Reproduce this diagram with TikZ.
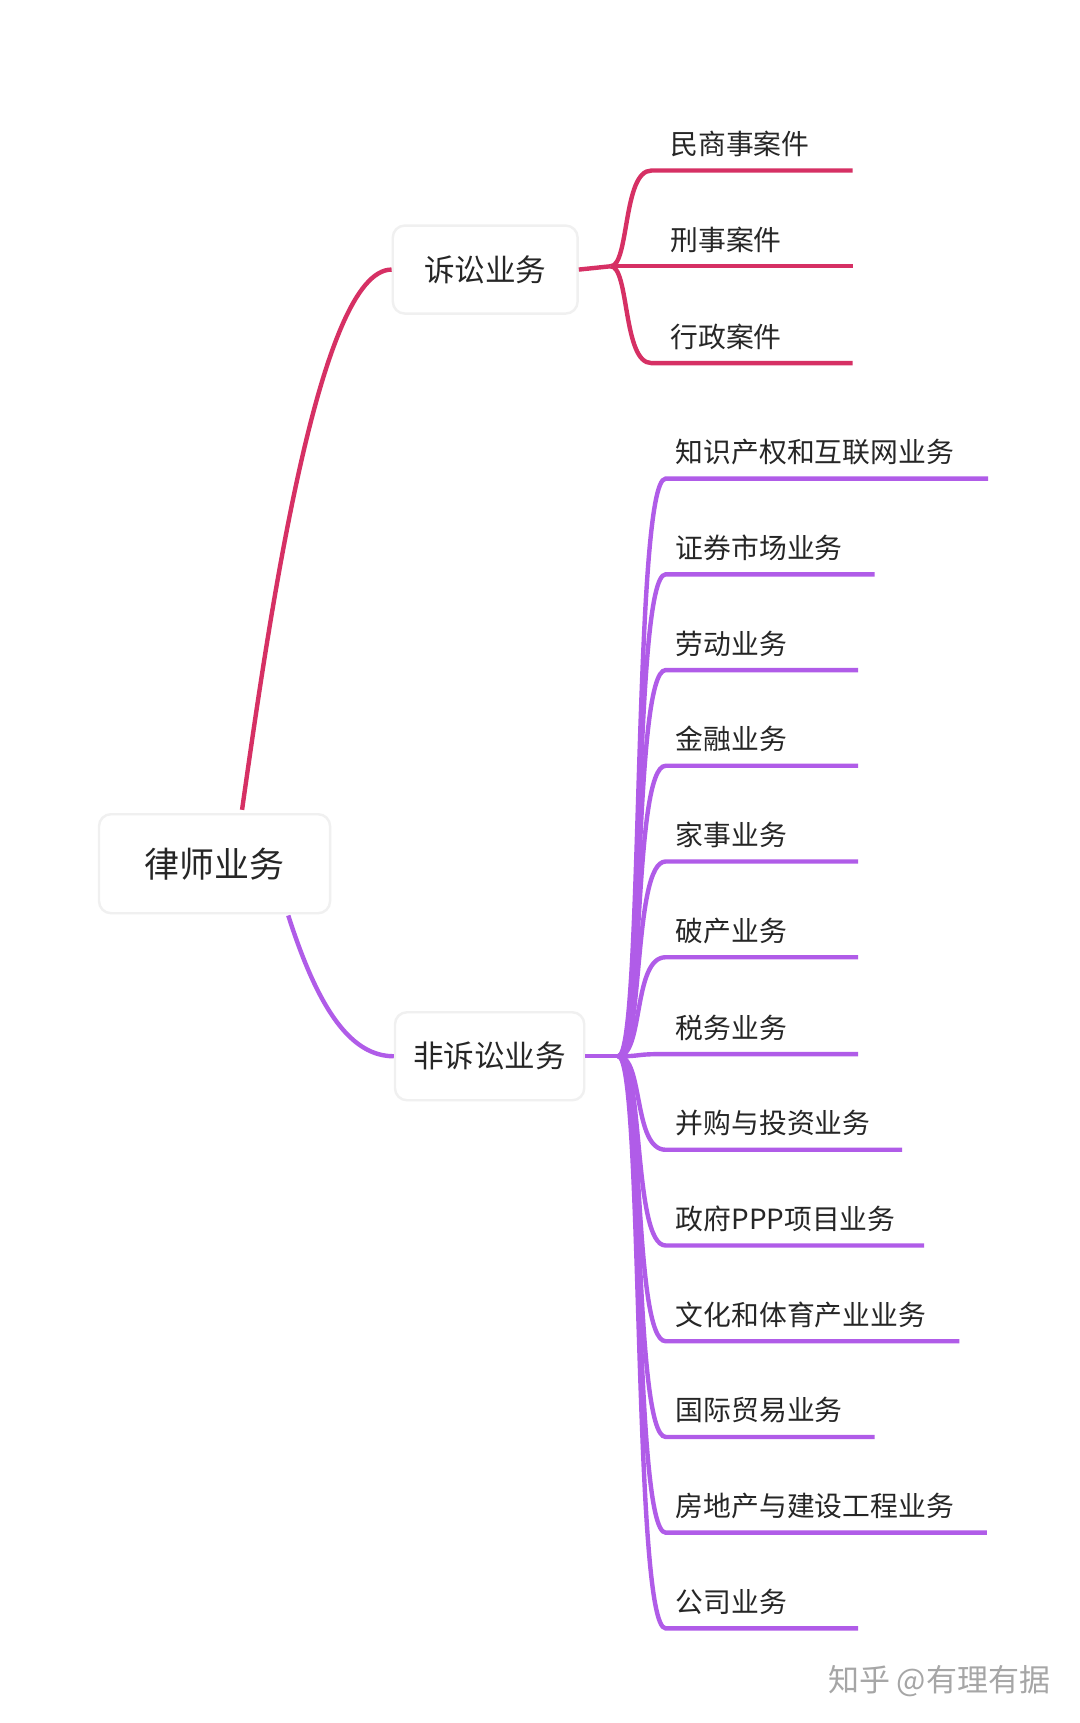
\documentclass[tikz,border=0pt]{standalone}
\usepackage{fontspec}
\setmainfont{Noto Sans CJK SC}
\begin{document}
\begin{tikzpicture}[x=0.55pt,y=-0.55pt,
  box/.style={draw=black!6,fill=white,rounded corners=6pt,line width=1.2pt,text=black!85,inner sep=0pt},
  lbl/.style={anchor=south west,font=\fontsize{13.9}{16}\selectfont,text=black!85,inner sep=0pt},
  rl/.style={draw={rgb,255:red,214;green,48;blue,100},line width=2.2pt},
  pl/.style={draw={rgb,255:red,176;green,92;blue,232},line width=2.2pt}]
\useasboundingbox[fill=white] (0,0) rectangle (981,1566);
\node[box,minimum width=210*0.55pt,minimum height=90*0.55pt,font=\fontsize{17.5}{20}\selectfont] (root) at (195,785) {律师业务};
\node[box,minimum width=168*0.55pt,minimum height=80*0.55pt,font=\fontsize{15.3}{18}\selectfont] (lit) at (441,245) {诉讼业务};
\node[box,minimum width=172*0.55pt,minimum height=80*0.55pt,font=\fontsize{15.3}{18}\selectfont] (non) at (445,960) {非诉讼业务};
\draw[rl] (220,736) .. controls (245,560) and (290,245) .. (lit.west);
\draw[pl] (262,832) .. controls (290,920) and (320,960) .. (non.west);
% litigation children
\coordinate (lb) at (555,242);
\draw[rl] (lit.east) -- (lb);
\foreach \y/\e/\t [count=\i] in {155/775/民商事案件,242/775/刑事案件,330/775/行政案件}{
  \coordinate (ls\i) at (592,\y); \coordinate (le\i) at (\e,\y);
  \draw[rl] (lb) .. controls (572,242) and (566,\y) .. (ls\i) -- (le\i);
  \node[lbl] (lt\i) at (609,\y-12) {\t};
}
% non-litigation children
\coordinate (nb) at (562,960);
\draw[pl] (non.east) -- (nb);
\foreach \y/\e/\t [count=\i] in {435/898/知识产权和互联网业务,522/795/证券市场业务,609/780/劳动业务,696/780/金融业务,783/780/家事业务,870/780/破产业务,958/780/税务业务,1045/820/并购与投资业务,1132/840/政府PPP项目业务,1219/872/文化和体育产业业务,1306/795/国际贸易业务,1393/897/房地产与建设工程业务,1480/780/公司业务}{
  \coordinate (ns\i) at (605,\y); \coordinate (ne\i) at (\e,\y);
  \draw[pl] (nb) .. controls (585,960) and (575,\y) .. (ns\i) -- (ne\i);
  \node[lbl] (nt\i) at (614,\y-12) {\t};
}
\node[anchor=south east,font=\fontsize{15.5}{18}\selectfont,text=black!35,inner sep=0pt] (wm) at (955,1543) {知乎 @有理有据};
\end{tikzpicture}
\end{document}
